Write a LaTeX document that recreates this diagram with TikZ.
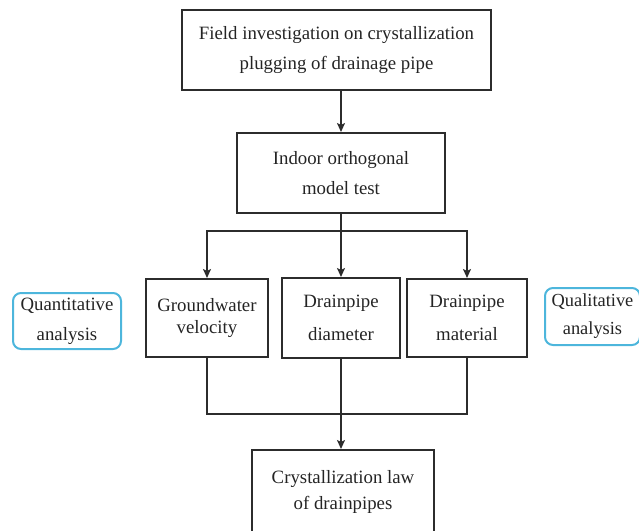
\documentclass[tikz,border=0pt]{standalone}
\usepackage{fontspec}
\setmainfont{Liberation Serif}
\usepackage{tikz}
\usetikzlibrary{arrows.meta, positioning, calc}
\definecolor{boxline}{HTML}{2C2C2C}
\definecolor{textgray}{HTML}{242424}
\definecolor{noteblue}{HTML}{4DB6DC}

\tikzset{
  procbox/.style={draw=boxline, line width=2pt, text=textgray, align=center, inner sep=0pt,
    font=\fontsize{18.8}{30}\selectfont},
  notebox/.style={procbox, draw=noteblue, rounded corners=8pt},
  flow/.style={draw=boxline, line width=2pt},
  flowarrow/.style={flow, -{Stealth[length=9pt, width=8pt, inset=2pt]}},
}

\begin{document}
\begin{tikzpicture}[x=1pt, y=-1pt]
    \useasboundingbox (0,0) rectangle (639,530);
    % Main chain
    \node[procbox, minimum width=309pt, minimum height=80pt] (field) at (336.5,50)
        {Field investigation on crystallization\\plugging of drainage pipe};
    \node[procbox, minimum width=208pt, minimum height=80pt] (model) at (341,173)
        {Indoor orthogonal\\model test};
    % Test factors
    \node[procbox, minimum width=122pt, minimum height=78pt, font=\fontsize{18.8}{22}\selectfont] (velocity) at (207,318)
        {Groundwater\\velocity};
    \node[procbox, minimum width=118pt, minimum height=80pt, font=\fontsize{18.8}{33}\selectfont] (diameter) at (341,318)
        {Drainpipe\\diameter};
    \node[procbox, minimum width=120pt, minimum height=78pt, font=\fontsize{18.8}{33}\selectfont] (material) at (467,318)
        {Drainpipe\\material};
    \node[procbox, minimum width=182pt, minimum height=84pt, font=\fontsize{18.8}{26}\selectfont] (law) at (343,492)
        {Crystallization law\\of drainpipes};
    % Side notes
    \node[notebox, minimum width=108pt, minimum height=56pt] (quant) at (67,321)
        {Quantitative\\analysis};
    \node[notebox, minimum width=95pt, minimum height=57pt, font=\fontsize{18.4}{28}\selectfont] (qual) at (592.5,316.5)
        {Qualitative\\analysis};

    % Connectors
    \coordinate (split) at ($(diameter.north)+(0,-46)$);
    \coordinate (merge) at ($(diameter.south)+(0,55)$);
    \draw[flowarrow] (diameter.north |- field.south) -- (diameter.north |- model.north);
    \draw[flow] (diameter.north |- model.south) -- (split);
    \draw[flowarrow] (split) -- (diameter.north);
    \draw[flowarrow] (split) -| (velocity.north);
    \draw[flowarrow] (split) -| (material.north);
    \draw[flow] (velocity.south) |- (merge);
    \draw[flow] (material.south) |- (merge);
    \draw[flow] (diameter.south) -- (merge);
    \draw[flowarrow] (merge) -- (merge |- law.north);
\end{tikzpicture}
\end{document}
